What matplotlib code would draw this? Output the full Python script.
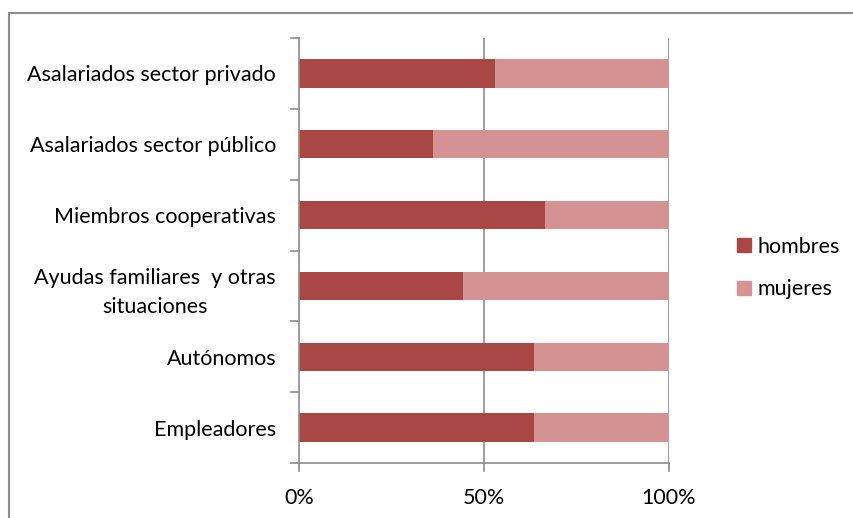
import matplotlib.pyplot as plt
from matplotlib.patches import Rectangle, Patch

# categorías (de abajo hacia arriba) y porcentajes
categorias = ["Empleadores", "Autónomos", "Ayudas familiares  y otras\nsituaciones",
              "Miembros cooperativas", "Asalariados sector público", "Asalariados sector privado"]
hombres = [63.6, 63.6, 44.4, 66.5, 36.2, 53.0]
mujeres = [100 - h for h in hombres]
ticks_x = [0, 50, 100]
etiquetas_x = ["0%", "50%", "100%"]

plt.rcParams['font.family'] = ['Lato', 'DejaVu Sans']
col_h = '#A94744'
col_m = '#D49392'
gris = '#8C8C8C'
fs = 15.5

fig = plt.figure(figsize=(8.54, 5.18), dpi=100)
ax = fig.add_axes([299/854, 1-463/518, 369.7/854, 425/518])

y = range(len(categorias))
ax.barh(y, hombres, height=0.4, color=col_h, label="hombres")
ax.barh(y, mujeres, left=hombres, height=0.4, color=col_m, label="mujeres")

ax.set_xlim(0, 100)
ax.set_ylim(-0.5, len(categorias) - 0.5)
ax.set_xticks(ticks_x)
ax.set_xticklabels(etiquetas_x, fontsize=fs)
ax.set_yticks(list(y))
ax.set_yticklabels(categorias, fontsize=fs, ha='right', multialignment='center', linespacing=1.55)
ax.tick_params(axis='y', length=0, pad=16.5)
ax.tick_params(axis='x', length=0, pad=18)

# separadores de categorías en el eje y
for k in range(len(categorias) + 1):
    ax.plot([-2.2, 0], [k - 0.5, k - 0.5], color=gris, lw=1.2, clip_on=False)
# ticks hacia abajo en el eje x
for t in ticks_x:
    ax.plot([t, t], [-0.5, -0.61], color=gris, lw=1.2, clip_on=False)
    if t > 0:
        ax.axvline(t, color=gris, lw=1.2, zorder=0)

for s in ['top', 'right']:
    ax.spines[s].set_visible(False)
for s in ['left', 'bottom']:
    ax.spines[s].set_color(gris)
    ax.spines[s].set_linewidth(1.2)

fig.legend(handles=[Patch(color=col_h, label="hombres"), Patch(color=col_m, label="mujeres")],
           loc='center left', bbox_to_anchor=(718/854, 1-268/518), frameon=False,
           fontsize=fs, handlelength=0.65, handleheight=0.65, handletextpad=0.3,
           labelspacing=1.05)

# marco exterior (sin borde derecho ni inferior visibles)
fig.patches.append(Rectangle((8.5/854, -0.01), 1.0, 1-13.5/518 + 0.01, transform=fig.transFigure,
                             fill=False, edgecolor=gris, lw=1.5))

fig.savefig("out.png", dpi=100)
